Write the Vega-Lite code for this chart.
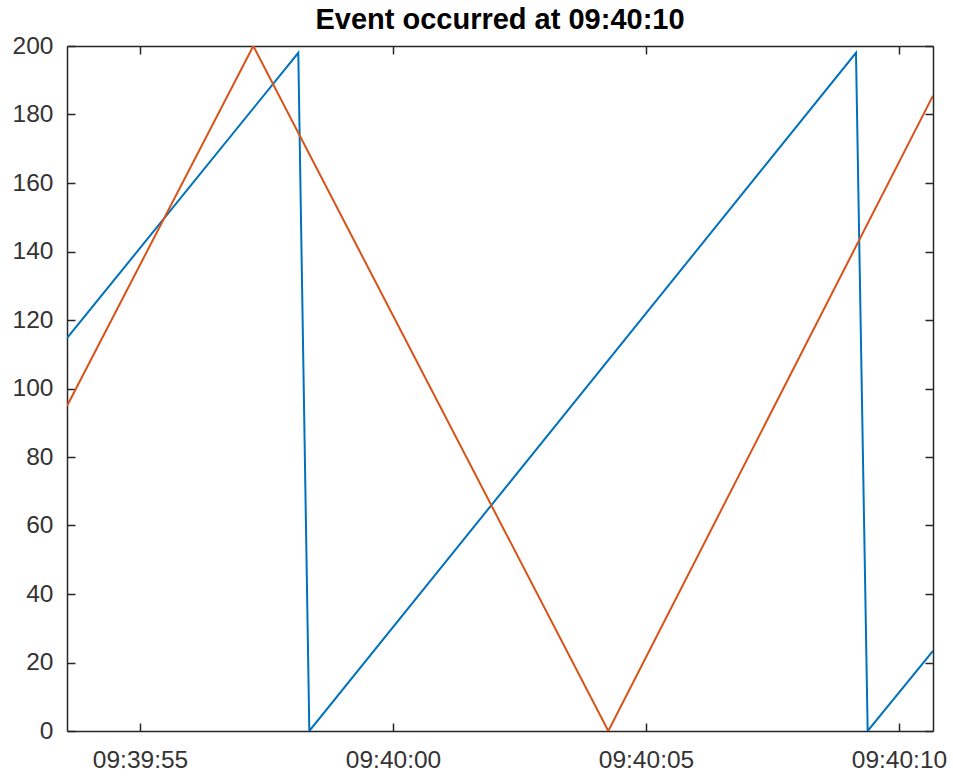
{
  "$schema": "https://vega.github.io/schema/vega-lite/v6.json",
  "autosize": {"type": "none"},
  "width": 866,
  "height": 685,
  "padding": {"left": 67, "top": 46, "right": 20, "bottom": 45},
  "background": "white",
  "config": {
    "view": {"stroke": null},
    "font": "Liberation Sans",
    "axis": {"grid": false, "domainColor": "#262626", "domainWidth": 1.5, "tickColor": "#262626", "tickWidth": 1.5, "tickSize": -8, "labelColor": "#333333", "labelFont": "Liberation Sans", "labelFontSize": 24.5, "ticks": true, "title": null}
  },
  "title": {"text": "Event occurred at 09:40:10", "fontSize": 29, "fontWeight": "bold", "font": "Liberation Sans", "color": "#000000", "anchor": "middle", "offset": -2},
  "data": {"values": [
    {"series": "A", "time": "2024-01-01T09:39:53.557", "value": 114.7},
    {"series": "A", "time": "2024-01-01T09:39:58.128", "value": 198.0},
    {"series": "A", "time": "2024-01-01T09:39:58.346", "value": 0},
    {"series": "A", "time": "2024-01-01T09:40:09.150", "value": 198.0},
    {"series": "A", "time": "2024-01-01T09:40:09.381", "value": 0},
    {"series": "A", "time": "2024-01-01T09:40:10.672", "value": 23.4},
    {"series": "B", "time": "2024-01-01T09:39:53.557", "value": 94.9},
    {"series": "B", "time": "2024-01-01T09:39:57.239", "value": 200},
    {"series": "B", "time": "2024-01-01T09:40:04.255", "value": 0},
    {"series": "B", "time": "2024-01-01T09:40:10.672", "value": 185.5}
  ]},
  "resolve": {"axis": {"x": "independent", "y": "independent"}},
  "layer": [
    {
      "mark": {"type": "line", "strokeWidth": 2, "clip": true},
      "encoding": {
        "x": {"field": "time", "type": "temporal",
          "scale": {"domain": [{"year": 2024, "month": 1, "date": 1, "hours": 9, "minutes": 39, "seconds": 53, "milliseconds": 557}, {"year": 2024, "month": 1, "date": 1, "hours": 9, "minutes": 40, "seconds": 10, "milliseconds": 672}], "nice": false},
          "axis": {"orient": "bottom", "format": "%H:%M:%S",
            "values": [{"year": 2024, "month": 1, "date": 1, "hours": 9, "minutes": 39, "seconds": 55}, {"year": 2024, "month": 1, "date": 1, "hours": 9, "minutes": 40, "seconds": 0}, {"year": 2024, "month": 1, "date": 1, "hours": 9, "minutes": 40, "seconds": 5}, {"year": 2024, "month": 1, "date": 1, "hours": 9, "minutes": 40, "seconds": 10}],
            "labelPadding": 25, "labelFlush": false}},
        "y": {"field": "value", "type": "quantitative",
          "scale": {"domain": [0, 200], "nice": false, "zero": false},
          "axis": {"orient": "left", "values": [0, 20, 40, 60, 80, 100, 120, 140, 160, 180, 200], "labelPadding": 22}},
        "color": {"field": "series", "type": "nominal", "scale": {"domain": ["A", "B"], "range": ["#0072BD", "#D95319"]}, "legend": null}
      }
    },
    {
      "mark": {"type": "line", "opacity": 0},
      "encoding": {
        "x": {"field": "time", "type": "temporal",
          "axis": {"orient": "top", "labels": false,
            "values": [{"year": 2024, "month": 1, "date": 1, "hours": 9, "minutes": 39, "seconds": 55}, {"year": 2024, "month": 1, "date": 1, "hours": 9, "minutes": 40, "seconds": 0}, {"year": 2024, "month": 1, "date": 1, "hours": 9, "minutes": 40, "seconds": 5}, {"year": 2024, "month": 1, "date": 1, "hours": 9, "minutes": 40, "seconds": 10}]}},
        "y": {"field": "value", "type": "quantitative",
          "axis": {"orient": "right", "labels": false, "values": [0, 20, 40, 60, 80, 100, 120, 140, 160, 180, 200]}},
        "detail": {"field": "series", "type": "nominal"}
      }
    }
  ]
}
